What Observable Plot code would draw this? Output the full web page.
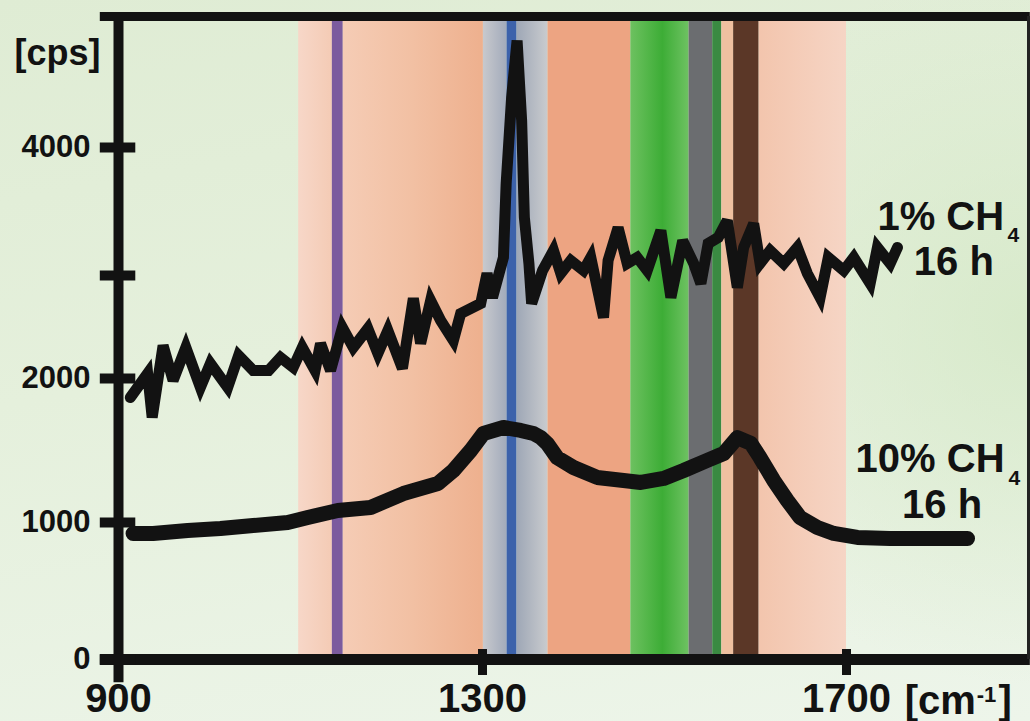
<!DOCTYPE html>
<html><head><meta charset="utf-8">
<script src="https://cdn.jsdelivr.net/npm/d3@7"></script>
<script src="https://cdn.jsdelivr.net/npm/@observablehq/plot@0.6"></script>
<style>
html,body{margin:0;padding:0;}
body{width:1030px;height:721px;overflow:hidden;
 background:
  radial-gradient(ellipse 35% 50% at 100% 45%, rgba(212,232,198,0.8) 0%, rgba(212,232,198,0) 100%),
  linear-gradient(170deg, #dfecd4 0%, #e5f0dc 45%, #edf5ea 100%);}
svg{display:block;}
</style></head><body><div id="chart"></div><script>
// ---- data (wavenumber in cm-1, intensity in cps) ----
const wavenumbers1 = [913,932,937,949,960,974,990,1001,1020,1032,1048,1065,1078,1092,1102,1116,1122,1133,1146,1158,1174,1185,1196,1212,1224,1232,1243,1254,1268,1276,1298,1305,1311,1323,1326,1332,1338,1343,1346,1351,1354,1366,1378,1386,1397,1411,1419,1433,1438,1449,1459,1470,1481,1496,1507,1520,1532,1540,1548,1559,1569,1580,1587,1598,1605,1616,1631,1646,1657,1671,1680,1697,1708,1726,1734,1748,1756];
const cps1 = [1868,2049,1729,2320,1986,2301,1938,2146,1938,2223,2078,2078,2204,2107,2301,2078,2340,2078,2495,2301,2485,2243,2466,2097,2777,2340,2757,2563,2369,2631,2728,3016,2786,3141,3719,4382,4817,4206,3453,3094,2728,3039,3195,3016,3117,3039,3141,2592,3117,3375,3094,3141,3039,3352,2786,3273,3094,2922,3250,3297,3430,2883,3219,3406,3094,3195,3094,3219,3016,2786,3141,3039,3141,2922,3219,3094,3219];
const wavenumbers2 = [916,938,976,1012,1048,1086,1108,1141,1177,1213,1251,1268,1287,1301,1323,1342,1356,1364,1371,1382,1400,1426,1455,1474,1499,1521,1547,1565,1580,1595,1605,1620,1635,1649,1668,1686,1712,1748,1785,1833];
const cps2 = [920,920,942,956,978,1000,1035,1083,1104,1201,1271,1361,1500,1618,1660,1639,1618,1590,1549,1451,1382,1313,1292,1278,1306,1361,1431,1479,1590,1549,1451,1292,1153,1035,964,920,891,883,883,883];

// bands (cm-1)
const bandStart = [1098,1135,1147,1301,1327,1338,1372,1463,1527,1553,1563,1576,1604];
const bandEnd   = [1135,1147,1301,1327,1338,1372,1463,1527,1553,1563,1576,1604,1700];
const bandFill  = ["url(#gA)","#7b5b9e","url(#gB)","url(#gC1)","#3c62ab","url(#gC2)","#eda482","url(#gG)","#6b6d70","#3a8a42","#efc0a0","#5b3727","url(#gP)"];

const xTicks = [900,1300,1700];
const yTicks = [0,1000,2000,3000,4000];
const yTickLabels = ["0","1000","2000","","4000"];

const series1 = wavenumbers1.map((x,i)=>({x, y: cps1[i]}));
const series2 = wavenumbers2.map((x,i)=>({x, y: cps2[i]}));
const bands = bandStart.map((s,i)=>({x1:s, x2:bandEnd[i], fill:bandFill[i]}));

// the original y axis is not evenly spaced: warp cps onto the drawn axis
const yWarp = d3.scaleLinear().domain([0,1000,2000,3000,4000,5000]).range([0,137,281,384,512,643]);

const gradients = {
  gA: [[0,"#f7d7c8"],[1,"#f4cbb5"]],
  gB: [[0,"#f5ccb5"],[0.5,"#f2c0a3"],[1,"#eeb08e"]],
  gC1:[[0,"#c8c9cd"],[1,"#a2abbb"]],
  gC2:[[0,"#9ea7b6"],[1,"#c9cbce"]],
  gG: [[0,"#6dc160"],[0.55,"#3dad36"],[1,"#6ec262"]],
  gP: [[0,"#f3c5ad"],[1,"#f6d5c5"]]
};
const defsMark = () => {
  const defs = d3.create("svg:defs");
  for (const [id, stops] of Object.entries(gradients)) {
    const g = defs.append("linearGradient").attr("id", id)
      .attr("x1","0").attr("x2","1").attr("y1","0").attr("y2","0");
    for (const [o,c] of stops) g.append("stop").attr("offset",o).attr("stop-color",c);
  }
  return defs.node();
};

const ink = "#121212";
const FONT = "'Liberation Sans', Arial, sans-serif";
const T = (s, opts) => Plot.text([s], {text: d => d, fontWeight: "bold", fill: ink, ...opts});

const chart = Plot.plot({
  width: 1030, height: 721,
  marginLeft: 118, marginRight: 2, marginTop: 16, marginBottom: 62,
  style: {background: "transparent", fontFamily: FONT, fontWeight: "bold", color: ink},
  x: {domain: [900, 1900], range: [118, 1028], axis: null},
  y: {domain: [0, 643], range: [659, 16], transform: v => yWarp(v), axis: null},
  marks: [
    defsMark,
    Plot.rectX(bands, {x1: "x1", x2: "x2", fill: d => d.fill}),
    Plot.line(series2, {x: "x", y: "y", stroke: ink, strokeWidth: 15}),
    Plot.line(series1, {x: "x", y: "y", stroke: ink, strokeWidth: 11, strokeLinejoin: "miter", strokeMiterlimit: 3}),
    // frame / axis lines
    Plot.ruleX([900], {y1: -170, y2: 5030, stroke: ink, strokeWidth: 10}),
    Plot.ruleY([0], {x1: 880, x2: 1902, stroke: ink, strokeWidth: 11}),
    Plot.ruleY([5000], {x1: 880, x2: 1902, stroke: ink, strokeWidth: 9}),
    Plot.ruleX([1900], {y1: 0, y2: 5000, stroke: "#222", strokeWidth: 3}),
    // ticks
    Plot.ruleY(yTicks, {x1: 880, x2: 919, stroke: ink, strokeWidth: 10}),
    Plot.ruleX(xTicks.slice(1), {y1: -117, y2: 73, stroke: ink, strokeWidth: 9}),
    // tick labels
    Plot.text(yTicks, {x: 900, y: d => d, text: (d, i) => yTickLabels[i], textAnchor: "end", dx: -28,
      fontSize: 31, fontWeight: "bold", fill: ink}),
    Plot.axisX({ticks: xTicks, tickSize: 0, tickPadding: 24, label: null,
      tickFormat: d => String(d), fontSize: 40, fontWeight: "bold"}),
    // unit labels
    T("[cps]", {x: 833, y: 4718, fontSize: 36}),
    T("[cm", {x: 1764, y: -305, textAnchor: "start", fontSize: 40}),
    T("-1", {x: 1843, y: -262, textAnchor: "start", fontSize: 22}),
    T("]", {x: 1867, y: -305, textAnchor: "start", fontSize: 40}),
    // series annotations
    T("1% CH", {x: 1734, y: 3453, textAnchor: "start", fontSize: 40}),
    T("4", {x: 1877, y: 3313, textAnchor: "start", fontSize: 21}),
    T("16 h", {x: 1818, y: 3102, fontSize: 40}),
    T("10% CH", {x: 1710, y: 1438, textAnchor: "start", fontSize: 40}),
    T("4", {x: 1878, y: 1306, textAnchor: "start", fontSize: 21}),
    T("16 h", {x: 1805, y: 1118, fontSize: 40})
  ]
});
document.getElementById("chart").appendChild(chart);
</script></body></html>
